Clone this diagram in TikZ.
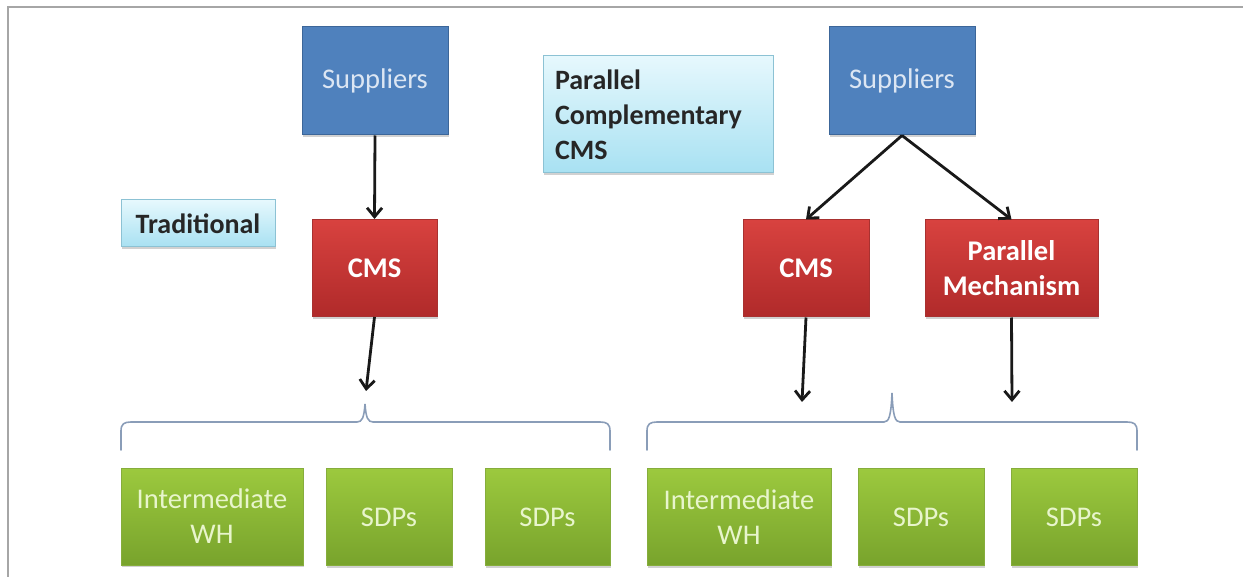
\documentclass[tikz,border=0pt]{standalone}
\usepackage{fontspec}
\setmainfont{Carlito}
\usetikzlibrary{arrows.meta,shadows,positioning}

\definecolor{supfill}{HTML}{4F81BD}
\definecolor{supdraw}{HTML}{3C6699}
\definecolor{suptext}{HTML}{DCE6F3}
\definecolor{redtop}{HTML}{D8423F}
\definecolor{redbot}{HTML}{B02A2A}
\definecolor{reddraw}{HTML}{A83130}
\definecolor{greentop}{HTML}{9CC93E}
\definecolor{greenbot}{HTML}{78A32C}
\definecolor{greendraw}{HTML}{86AD3C}
\definecolor{greentext}{HTML}{E8F5CC}
\definecolor{tagtop}{HTML}{E6F8FD}
\definecolor{tagbot}{HTML}{A8E1F2}
\definecolor{tagdraw}{HTML}{8CC2D4}
\definecolor{bracecol}{HTML}{8A9DB8}
\definecolor{framecol}{HTML}{A6A6A6}

\tikzset{
  txt/.style={font=\fontsize{28.5}{35}\selectfont},
  shade/.style={drop shadow={shadow xshift=1.2pt, shadow yshift=-2.2pt, opacity=0.3, fill=black!60}},
  supbox/.style={txt, shade, fill=supfill, draw=supdraw, line width=1pt,
    text=suptext, minimum width=146, minimum height=108, align=center},
  redbox/.style={txt, shade, top color=redtop, bottom color=redbot, draw=reddraw,
    line width=1pt, text=white, font=\fontsize{28.5}{35}\selectfont\bfseries,
    minimum height=97, align=center},
  greenbox/.style={txt, shade, top color=greentop, bottom color=greenbot,
    draw=greendraw, line width=0.8pt, text=greentext, minimum height=97, align=center},
  tagbox/.style={shade, top color=tagtop, bottom color=tagbot, draw=tagdraw,
    line width=1pt, text=black!85, font=\fontsize{28}{35}\selectfont\bfseries},
  conn/.style={line width=2.8, black!90, -{Straight Barb[length=9, width=15, line width=2.8]}},
  brace/.style={bracecol, line width=1.6, line cap=round}
}

\begin{document}
\begin{tikzpicture}[x=1pt, y=-1pt]
  \useasboundingbox (0,0) rectangle (1243,577);

  % outer frame (top and left edges)
  \draw[framecol, line width=2] (8,577) -- (8,7) -- (1243,7);

  % ---------- Traditional CMS ----------
  \node[supbox] (supL) at (375,81) {Suppliers};
  \node[tagbox, minimum width=154, minimum height=47] (trad) at (198,223.5) {Traditional};
  \node[redbox, minimum width=125] (cmsL) at (374.5,268) {CMS};

  \node[greenbox, minimum width=182] (whL) at (212,516.5) {Intermediate\\WH};
  \node[greenbox, minimum width=126] (sdpLa) at (389,517) {SDPs};
  \node[greenbox, minimum width=125] (sdpLb) at (547.5,517) {SDPs};

  \coordinate (tipL) at (366,391);
  \draw[conn] (supL.south) -- (cmsL.north);
  \draw[conn] (cmsL.south) -- (tipL);

  % brace over the traditional destinations
  \draw[brace] (121,450) -- (121,431) .. controls (121,424) and (124,422) .. (131,422)
    -- (357,422) .. controls (362,422) and (364,418) .. (365,404)
    .. controls (366,418) and (368,422) .. (373,422)
    -- (600,422) .. controls (607,422) and (610,424) .. (610,431) -- (610,450);

  % ---------- Parallel complementary CMS ----------
  \node[tagbox, minimum width=230, minimum height=117, text width=206, align=left,
        inner xsep=12] (pcc) at (658,114.5) {Parallel\\Complementary\\CMS};
  \node[supbox] (supR) at (902,81) {Suppliers};
  \node[redbox, minimum width=126] (cmsR) at (806,268.5) {CMS};
  \node[redbox, minimum width=173] (pm) at (1011.5,268.5) {Parallel\\Mechanism};

  \node[greenbox, minimum width=184] (whR) at (739,517) {Intermediate\\WH};
  \node[greenbox, minimum width=126] (sdpRa) at (921,517) {SDPs};
  \node[greenbox, minimum width=126] (sdpRb) at (1074,517) {SDPs};

  \coordinate (tipR1) at (802,402);
  \coordinate (tipR2) at (1012,402);
  \draw[conn] (supR.south) -- (cmsR.north);
  \draw[conn] (supR.south) -- (pm.north);
  \draw[conn] (cmsR.south) -- (tipR1);
  \draw[conn] (pm.south) -- (tipR2);

  % brace over the parallel destinations
  \draw[brace] (647,450) -- (647,431) .. controls (647,424) and (650,422) .. (657,422)
    -- (884,422) .. controls (889,422) and (891,416) .. (892,393)
    .. controls (893,416) and (895,422) .. (900,422)
    -- (1127,422) .. controls (1134,422) and (1137,424) .. (1137,431) -- (1137,450);
\end{tikzpicture}
\end{document}
